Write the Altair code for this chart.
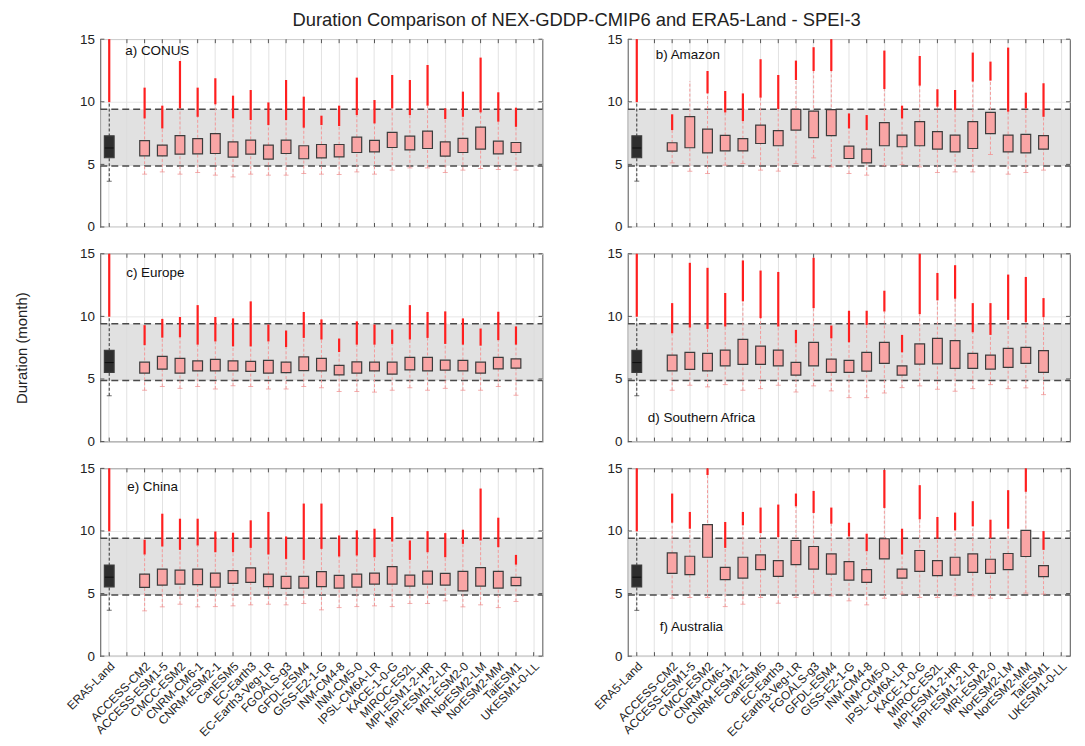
import altair as alt
import pandas as pd

FONT = "Liberation Sans"

MODELS = ["ACCESS-CM2", "ACCESS-ESM1-5", "CMCC-ESM2", "CNRM-CM6-1", "CNRM-ESM2-1",
          "CanESM5", "EC-Earth3", "EC-Earth3-Veg-LR", "FGOALS-g3", "GFDL-ESM4",
          "GISS-E2-1-G", "INM-CM4-8", "INM-CM5-0", "IPSL-CM6A-LR", "KACE-1-0-G",
          "MIROC-ES2L", "MPI-ESM1-2-HR", "MPI-ESM1-2-LR", "MRI-ESM2-0", "NorESM2-LM",
          "NorESM2-MM", "TaiESM1", "UKESM1-0-LL"]
SLOTS = ["ERA5-Land", " "] + MODELS
YTICKS = [0, 5, 10, 15]

REGIONS = ["a) CONUS", "b) Amazon", "c) Europe", "d) Southern Africa", "e) China", "f) Australia"]

# ERA5-Land reference box: lower whisker, q1, median, q3, upper whisker, outlier max
ERA5_BOX = [3.66, 5.53, 6.31, 7.28, 9.97, 15.0]
BAND = [4.88, 9.41]

CONUS_Q1 = [5.68, 5.68, 5.82, 5.84, 5.87, 5.58, 5.82, 5.42, 5.87, 5.45, 5.52, 5.60, 5.95, 6.00, 6.35, 6.16, 6.27, 5.66, 5.95, 6.22, 5.84, 5.95]
CONUS_Q3 = [6.89, 6.54, 7.29, 7.05, 7.45, 6.80, 6.94, 6.54, 6.94, 6.49, 6.59, 6.59, 7.18, 6.91, 7.55, 7.26, 7.66, 6.80, 7.07, 7.98, 6.86, 6.75]
CONUS_LOW = [4.22, 4.40, 4.22, 4.35, 4.14, 4.00, 4.22, 4.14, 4.14, 4.27, 4.22, 4.19, 4.40, 4.22, 4.54, 4.72, 4.72, 4.35, 4.54, 4.67, 4.59, 4.54]
CONUS_OUT_LO = [8.67, 7.87, 9.47, 8.80, 9.80, 8.67, 8.54, 8.14, 8.54, 7.93, 8.14, 8.06, 8.94, 8.27, 9.47, 8.94, 9.69, 8.62, 8.80, 9.15, 8.41, 8.00]
CONUS_OUT_HI = [11.13, 9.69, 13.26, 11.13, 11.88, 10.49, 10.94, 9.95, 11.74, 10.41, 8.89, 9.69, 11.93, 10.14, 12.14, 11.74, 12.94, 9.47, 10.81, 13.53, 10.76, 9.53]

AMAZON_Q1 = [6.06, 6.33, 5.92, 6.08, 6.08, 6.67, 6.49, 7.74, 7.13, 7.29, 5.47, 5.12, 6.49, 6.41, 6.49, 6.22, 6.00, 6.27, 7.45, 6.00, 5.92, 6.22]
AMAZON_Q3 = [6.73, 8.81, 7.82, 7.31, 7.05, 8.14, 7.69, 9.39, 9.26, 9.37, 6.46, 6.22, 8.33, 7.34, 8.41, 7.61, 7.34, 8.41, 9.15, 7.34, 7.39, 7.29]
AMAZON_LOW = [5.12, 4.46, 4.27, 4.94, 5.07, 4.54, 4.46, 5.07, 5.52, 4.80, 4.27, 4.14, 4.88, 4.99, 4.80, 4.35, 4.40, 4.40, 5.79, 4.22, 4.35, 4.54]
AMAZON_OUT_LO = [7.74, 11.66, 10.67, 9.15, 8.46, 10.33, 9.42, 11.74, 12.46, 12.46, 7.87, 7.74, 11.02, 8.67, 11.29, 9.61, 9.34, 11.61, 11.69, 9.21, 9.47, 8.80]
AMAZON_OUT_HI = [9.00, 11.66, 12.46, 10.86, 10.67, 13.40, 12.14, 13.29, 14.36, 15.00, 9.07, 8.94, 14.09, 9.69, 13.66, 11.00, 10.94, 13.93, 13.21, 14.33, 10.73, 11.48]

EUROPE_Q1 = [5.46, 5.78, 5.46, 5.65, 5.65, 5.65, 5.60, 5.46, 5.51, 5.67, 5.65, 5.32, 5.46, 5.65, 5.38, 5.73, 5.65, 5.70, 5.65, 5.46, 5.80, 5.86]
EUROPE_Q3 = [6.34, 6.80, 6.64, 6.45, 6.56, 6.45, 6.40, 6.48, 6.34, 6.77, 6.64, 6.08, 6.37, 6.34, 6.34, 6.72, 6.72, 6.50, 6.48, 6.34, 6.72, 6.60]
EUROPE_LOW = [4.10, 4.40, 4.25, 4.40, 4.20, 4.46, 4.40, 4.20, 4.20, 4.40, 4.30, 4.00, 4.00, 3.95, 4.10, 4.30, 4.10, 4.25, 4.10, 4.10, 4.40, 3.70]
EUROPE_OUT_LO = [7.70, 8.30, 8.33, 7.74, 8.00, 7.60, 7.60, 8.00, 7.55, 8.28, 8.15, 7.15, 7.74, 7.74, 7.80, 8.15, 8.28, 7.80, 7.74, 7.66, 8.10, 7.74]
EUROPE_OUT_HI = [9.30, 9.80, 9.95, 10.90, 9.95, 9.84, 11.20, 9.35, 8.87, 10.35, 9.76, 8.23, 9.60, 9.35, 8.95, 10.90, 10.35, 10.40, 9.84, 9.03, 10.37, 9.20]

SAFRICA_Q1 = [5.65, 5.76, 5.65, 6.05, 6.16, 6.16, 6.05, 5.30, 6.05, 5.52, 5.52, 5.63, 6.24, 5.30, 6.19, 6.21, 5.84, 5.84, 5.79, 5.92, 6.24, 5.52]
SAFRICA_Q3 = [6.91, 7.13, 7.05, 7.31, 8.17, 7.63, 7.31, 6.32, 7.93, 6.59, 6.48, 7.13, 7.93, 6.05, 7.80, 8.25, 8.06, 7.05, 6.91, 7.45, 7.53, 7.26]
SAFRICA_LOW = [4.10, 4.50, 4.37, 4.55, 4.10, 4.23, 4.50, 3.96, 4.45, 4.05, 3.51, 3.51, 3.88, 4.31, 4.45, 4.18, 4.02, 4.23, 4.55, 4.23, 4.29, 3.75]
SAFRICA_OUT_LO = [8.65, 9.11, 9.00, 9.19, 11.20, 9.86, 9.19, 7.85, 10.66, 8.25, 7.93, 9.32, 10.39, 7.13, 10.18, 11.28, 11.41, 8.73, 8.52, 9.72, 9.54, 9.94]
SAFRICA_OUT_HI = [11.06, 14.28, 13.88, 11.87, 14.47, 13.66, 13.55, 8.92, 14.68, 9.27, 10.45, 10.45, 12.05, 8.52, 15.00, 13.47, 14.09, 11.06, 11.06, 13.34, 13.15, 11.46]

CHINA_Q1 = [5.49, 5.68, 5.76, 5.71, 5.52, 5.81, 5.89, 5.55, 5.41, 5.44, 5.55, 5.44, 5.52, 5.76, 5.76, 5.60, 5.76, 5.68, 5.22, 5.60, 5.44, 5.63]
CHINA_Q3 = [6.56, 6.96, 6.88, 6.96, 6.64, 6.83, 7.05, 6.56, 6.38, 6.38, 6.75, 6.46, 6.56, 6.64, 7.15, 6.48, 6.80, 6.62, 6.78, 7.07, 6.78, 6.30]
CHINA_LOW = [3.62, 3.94, 4.15, 3.94, 3.96, 4.02, 4.10, 4.15, 4.10, 4.21, 3.70, 3.88, 3.96, 4.02, 3.96, 4.21, 4.21, 4.42, 3.94, 4.10, 3.88, 4.37]
CHINA_OUT_LO = [8.12, 8.76, 8.49, 8.84, 8.30, 8.30, 8.65, 8.12, 7.77, 7.69, 8.57, 7.96, 8.04, 7.90, 9.16, 7.69, 8.30, 7.90, 8.97, 9.24, 8.71, 7.31]
CHINA_OUT_HI = [9.30, 11.38, 10.98, 10.98, 9.96, 9.86, 10.85, 11.52, 9.56, 12.19, 12.19, 9.64, 10.05, 10.18, 11.12, 9.24, 9.99, 9.83, 10.10, 13.39, 11.06, 8.09]

AUSTRALIA_Q1 = [6.62, 6.51, 7.90, 6.11, 6.24, 6.91, 6.38, 7.31, 6.96, 6.56, 6.08, 5.89, 7.77, 6.24, 6.78, 6.43, 6.48, 6.70, 6.62, 6.91, 7.96, 6.35]
AUSTRALIA_Q3 = [8.25, 7.98, 10.50, 7.10, 7.90, 8.09, 7.63, 9.24, 8.76, 8.17, 7.55, 6.91, 9.38, 6.96, 8.44, 7.63, 7.90, 8.17, 7.74, 8.20, 10.05, 7.23]
AUSTRALIA_LOW = [4.63, 4.69, 4.69, 3.96, 4.15, 4.69, 4.23, 4.69, 5.04, 4.82, 4.42, 4.10, 4.63, 4.96, 4.69, 4.69, 4.82, 4.82, 4.63, 4.61, 5.04, 4.96]
AUSTRALIA_OUT_LO = [10.66, 10.18, 14.47, 8.65, 10.45, 9.83, 9.51, 11.97, 11.44, 10.58, 9.56, 8.38, 11.84, 8.12, 10.93, 9.38, 10.05, 10.37, 9.43, 10.18, 13.13, 8.49]
AUSTRALIA_OUT_HI = [12.99, 11.52, 15.00, 10.72, 11.52, 11.87, 12.11, 12.99, 13.20, 11.87, 10.66, 9.78, 14.87, 10.18, 13.66, 11.12, 11.47, 12.38, 10.90, 13.26, 15.00, 9.99]

REGION_DATA = [
    (CONUS_Q1, CONUS_Q3, CONUS_LOW, CONUS_OUT_LO, CONUS_OUT_HI),
    (AMAZON_Q1, AMAZON_Q3, AMAZON_LOW, AMAZON_OUT_LO, AMAZON_OUT_HI),
    (EUROPE_Q1, EUROPE_Q3, EUROPE_LOW, EUROPE_OUT_LO, EUROPE_OUT_HI),
    (SAFRICA_Q1, SAFRICA_Q3, SAFRICA_LOW, SAFRICA_OUT_LO, SAFRICA_OUT_HI),
    (CHINA_Q1, CHINA_Q3, CHINA_LOW, CHINA_OUT_LO, CHINA_OUT_HI),
    (AUSTRALIA_Q1, AUSTRALIA_Q3, AUSTRALIA_LOW, AUSTRALIA_OUT_LO, AUSTRALIA_OUT_HI),
]

# label placement inside each panel (pixels from plot's top-left)
LABEL_POS = [(25, 12), (28, 16), (26, 19), (20, 165), (27, 19), (32, 160)]

W, H = 445, 189
TICK = 4
YSCALE = alt.Scale(domain=[0, 15], nice=False, zero=False)


def panel(i):
    q1, q3, low, olo, ohi = REGION_DATA[i]
    rows = [dict(model="ERA5-Land", kind="era5", q1=ERA5_BOX[1], med=ERA5_BOX[2], q3=ERA5_BOX[3],
                 low=ERA5_BOX[0], olo=ERA5_BOX[4], ohi=ERA5_BOX[5])]
    for j in range(len(q1)):
        rows.append(dict(model=MODELS[j], kind="model", q1=q1[j], med=None, q3=q3[j],
                         low=low[j], olo=olo[j], ohi=ohi[j]))
    df = pd.DataFrame(rows)
    bottom = i >= 4
    xaxis = alt.Axis(grid=True, gridColor="#e2e2e2", gridWidth=1, ticks=False, domain=False,
                     labels=bottom, labelAngle=-45, labelFontSize=12, labelFont=FONT,
                     labelColor="#222", labelPadding=4, title=None)
    X = alt.X("model:N", scale=alt.Scale(domain=SLOTS, paddingInner=0, paddingOuter=0),
              sort=SLOTS, axis=xaxis)
    yaxis_kw = dict(values=YTICKS, grid=True, gridColor="#e6e6e6", ticks=False,
                    domain=False, labelFontSize=13.5, labelFont=FONT, labelColor="#222",
                    labelPadding=6)
    if i == 2:
        yaxis_kw.update(title="Duration (month)", titleFontSize=15, titleFont=FONT,
                        titleFontWeight="normal", titleColor="#222", titlePadding=50)
    else:
        yaxis_kw.update(title=None)

    band_df = pd.DataFrame({"lo": [BAND[0]], "hi": [BAND[1]]})
    band_lines = pd.DataFrame({"v": BAND})
    slot_df = pd.DataFrame({"model": SLOTS})
    ytick_df = pd.DataFrame({"v": YTICKS})

    base = alt.Chart(df)
    band = alt.Chart(band_df).mark_rect(color="#d9d9d9", opacity=0.8).encode(
        y=alt.Y("lo:Q", scale=YSCALE, axis=alt.Axis(**yaxis_kw)), y2="hi:Q",
        x=alt.value(0), x2=alt.value(W))
    dashed = alt.Chart(band_lines).mark_rule(color="#4a4a4a", strokeDash=[7, 4], strokeWidth=1.5).encode(
        y=alt.Y("v:Q", scale=YSCALE), x=alt.value(0), x2=alt.value(W))
    # inward tick marks (MATLAB style) on all four sides
    xt_bot = alt.Chart(slot_df).mark_rule(color="#555", strokeWidth=1).encode(
        x=X, y=alt.value(H), y2=alt.value(H - TICK))
    xt_top = alt.Chart(slot_df).mark_rule(color="#555", strokeWidth=1).encode(
        x=X, y=alt.value(0), y2=alt.value(TICK))
    yt_l = alt.Chart(ytick_df).mark_rule(color="#555", strokeWidth=1).encode(
        y=alt.Y("v:Q", scale=YSCALE), x=alt.value(0), x2=alt.value(TICK))
    yt_r = alt.Chart(ytick_df).mark_rule(color="#555", strokeWidth=1).encode(
        y=alt.Y("v:Q", scale=YSCALE), x=alt.value(W - TICK), x2=alt.value(W))

    model_df = base.transform_filter("datum.kind == 'model'")
    era_df = base.transform_filter("datum.kind == 'era5'")
    whisk = model_df.mark_rule(color="#f39a9a", strokeDash=[3, 2], strokeWidth=1).encode(
        x=X, y=alt.Y("low:Q", scale=YSCALE), y2="olo:Q")
    era_whisk = era_df.mark_rule(color="#333", strokeDash=[3, 2], strokeWidth=1).encode(
        x=X, y=alt.Y("low:Q", scale=YSCALE), y2="olo:Q")
    caps = model_df.mark_tick(color="#f08c8c", size=5, thickness=1).encode(
        x=X, y=alt.Y("low:Q", scale=YSCALE))
    era_caps = era_df.mark_tick(color="#333", size=5, thickness=1).encode(
        x=X, y=alt.Y("low:Q", scale=YSCALE))
    outl = base.mark_rule(color="#ff1f1f", strokeWidth=2.2).encode(
        x=X, y=alt.Y("olo:Q", scale=YSCALE), y2="ohi:Q")
    boxes = base.mark_bar(width=alt.RelativeBandSize(0.55), stroke="#3c3c3c", strokeWidth=1.2).encode(
        x=X, y=alt.Y("q1:Q", scale=YSCALE), y2="q3:Q",
        color=alt.Color("kind:N", scale=alt.Scale(domain=["era5", "model"], range=["#2e2e2e", "#f9a5a5"]),
                        legend=None))
    med = era_df.mark_tick(color="#000", size=9, thickness=1).encode(
        x=X, y=alt.Y("med:Q", scale=YSCALE))
    lx, ly = LABEL_POS[i]
    label = alt.Chart(pd.DataFrame({"t": [REGIONS[i]]})).mark_text(
        align="left", baseline="middle", fontSize=13.5, font=FONT, color="#111").encode(
        text="t:N", x=alt.value(lx), y=alt.value(ly))
    return alt.layer(band, dashed, xt_bot, xt_top, yt_l, yt_r, whisk, era_whisk, caps, era_caps,
                     outl, boxes, med, label).properties(width=W, height=H)


chart = alt.concat(*[panel(i) for i in range(6)], columns=2, spacing={"row": 11, "column": 47}).properties(
    title=alt.TitleParams("Duration Comparison of NEX-GDDP-CMIP6 and ERA5-Land - SPEI-3",
                          fontSize=18.5, fontWeight="normal", font=FONT, color="#222",
                          anchor="middle", offset=2, dx=34),
    padding={"left": 6, "top": 0, "right": 5, "bottom": 0},
).configure_view(stroke="#707070", strokeWidth=1.2)

chart.save("out.html", embed_options={"renderer": "svg", "actions": False})
